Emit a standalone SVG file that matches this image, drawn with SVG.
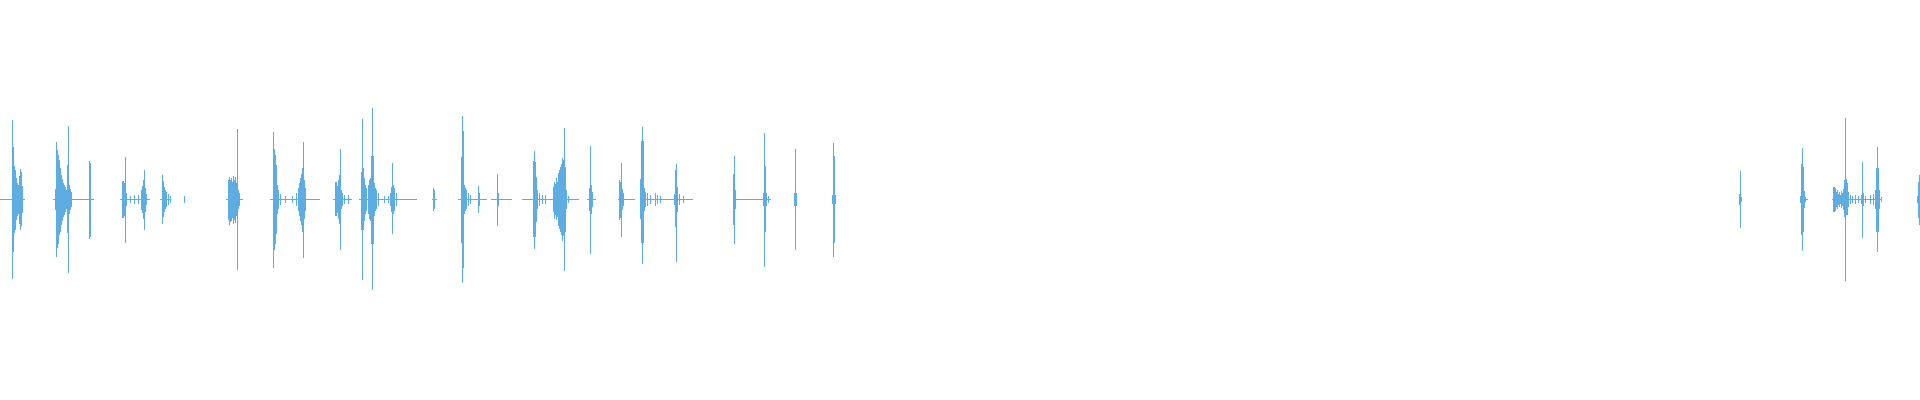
<svg xmlns="http://www.w3.org/2000/svg" width="1920" height="400" viewBox="0 0 1920 400">
<style>.w{stroke:#5dade2;stroke-width:1;fill:none;shape-rendering:crispEdges}</style>
<rect width="1920" height="400" fill="#fff"/>
<g id="baseline" class="w">
<path d="M0 199.5H25M53 199.5H94M120 199.5H150M160 199.5H170M226 199.5H243M270 199.5H320M333 199.5H352M359 199.5H400M400 199.5H417M432 199.5H437M458 199.5H487M491 199.5H512M522 199.5H579M587 199.5H596M618 199.5H635M640 199.5H693M733 199.5H771M1800 199.5H1808M1832 199.5H1882"/>
</g>
<g id="waveform" class="w">
<path d="M12.5 120V279M13.5 147V252M14.5 166V233M15.5 170V230M16.5 178V220M17.5 183V216M18.5 185V214M19.5 176V224M20.5 169V230M21.5 172V226M22.5 186V213
M55.5 189V210M56.5 142V257M57.5 150V248M58.5 155V244M59.5 160V235M60.5 168V232M61.5 175V225M62.5 179V221M63.5 183V217M64.5 185V215M65.5 187V212M66.5 190V209M67.5 165V233M68.5 126V273M69.5 185V214M70.5 189V210M71.5 192V207
M89.5 161V239M90.5 163V237
M122.5 181V218M123.5 181V218M124.5 183V216M125.5 157V243M126.5 193V206M130.5 196V203M134.5 195V204M138.5 195V204M141.5 190V210M142.5 186V213M143.5 180V219M144.5 170V230M145.5 188V212M146.5 194V205
M162.5 175V224M163.5 181V217M164.5 187V212M165.5 190V209M166.5 192V207M168.5 194V205M170.5 196V203M184.5 196V203
M228.5 180V220M229.5 177V225M230.5 180V222M231.5 178V221M232.5 182V218M233.5 176V224M234.5 180V220M235.5 177V223M236.5 183V216M237.5 129V270M238.5 190V209M239.5 193V206
M273.5 132V268M274.5 149V250M275.5 155V244M276.5 165V234M277.5 185V214M278.5 190V209M280.5 194V205M285.5 196V203M292.5 196V203M296.5 193V206M298.5 188V211M299.5 183V216M300.5 178V221M301.5 174V225M302.5 168V232M303.5 142V258M304.5 180V219M305.5 188V211
M335.5 182V216M336.5 182V216M337.5 186V213M338.5 180V219M339.5 175V224M340.5 149V250M341.5 190V209M342.5 193V206M344.5 195V204M348.5 195V204
M361.5 172V230M362.5 119V280M363.5 168V230M364.5 178V221M365.5 185V214M366.5 188V211M368.5 185V214M369.5 180V219M370.5 178V221M371.5 156V244M372.5 108V290M373.5 156V244M374.5 183V216M375.5 188V211M376.5 190V209M378.5 193V206M384.5 196V203M388.5 196V203M390.5 193V206M391.5 187V212M392.5 163V234M393.5 185V214M394.5 188V211M396.5 193V206
M433.5 188V211M434.5 190V209
M461.5 157V243M462.5 116V283M463.5 131V268M464.5 185V214M465.5 188V211M466.5 190V209M468.5 193V206M470.5 195V204M478.5 186V213M479.5 193V206M497.5 174V226M498.5 193V206
M533.5 161V237M534.5 151V249M535.5 162V237M536.5 177V222M537.5 190V209M539.5 193V206M542.5 195V204M545.5 195V204M553.5 187V212M554.5 182V219M555.5 184V215M556.5 178V220M557.5 182V217M558.5 173V226M559.5 170V229M560.5 167V232M561.5 164V235M562.5 158V241M563.5 160V236M564.5 128V271M565.5 167V232M566.5 190V209M568.5 196V203
M589.5 188V211M590.5 146V254M591.5 185V214M592.5 192V207
M619.5 180V220M620.5 182V218M621.5 163V237M622.5 189V210M623.5 193V206
M640.5 179V219M641.5 141V243M642.5 127V264M643.5 141V243M644.5 188V211M645.5 192V207M647.5 193V206M650.5 195V204M655.5 193V206M657.5 195V204M660.5 196V203M674.5 194V205M675.5 170V227M676.5 164V262M677.5 187V212M679.5 194V205M683.5 196V203
M733.5 174V225M734.5 156V244M735.5 190V209
M763.5 193V206M764.5 133V267M765.5 166V232M766.5 193V206M768.5 196V203
M794.5 193V206M795.5 149V250M796.5 193V206
M832.5 195V204M833.5 143V257M834.5 156V243M835.5 195V204
M1739.5 194V205M1740.5 171V228M1741.5 197V202
M1800.5 196V203M1801.5 164V235M1802.5 148V251M1803.5 167V232M1804.5 191V208M1805.5 197V202
M1833.5 187V212M1834.5 187V212M1835.5 188V211M1836.5 192V207M1837.5 190V209M1838.5 194V205M1839.5 192V207M1840.5 195V204M1841.5 191V208M1842.5 193V206M1843.5 189V210M1844.5 180V217M1845.5 118V281M1846.5 179V215M1847.5 183V215M1848.5 192V207M1850.5 195V204M1852.5 196V203M1855.5 195V204M1858.5 196V203M1861.5 195V204M1862.5 162V238M1863.5 193V206M1865.5 196V203M1870.5 195V204M1873.5 194V205M1875.5 190V209M1876.5 168V232M1877.5 147V252M1878.5 168V232M1879.5 190V209M1881.5 197V202
M1917.5 196V203M1918.5 182V218M1919.5 175V225"/>
</g>
</svg>
